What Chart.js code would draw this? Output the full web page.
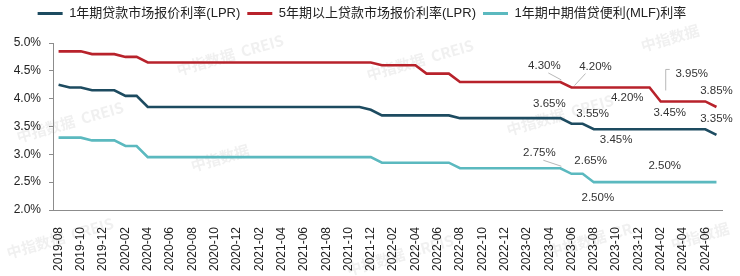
<!DOCTYPE html>
<html>
<head>
<meta charset="utf-8">
<script src="https://cdn.jsdelivr.net/npm/chart.js@4/dist/chart.umd.min.js"></script>
<style>
  html, body { margin: 0; padding: 0; background: #fff; }
  #wrap { width: 740px; height: 276px; }
</style>
</head>
<body>
<div id="wrap"><canvas id="rateChart" width="740" height="276"></canvas></div>
<script>
var months = [
  "2019-08","2019-09","2019-10","2019-11","2019-12",
  "2020-01","2020-02","2020-03","2020-04","2020-05","2020-06","2020-07","2020-08","2020-09","2020-10","2020-11","2020-12",
  "2021-01","2021-02","2021-03","2021-04","2021-05","2021-06","2021-07","2021-08","2021-09","2021-10","2021-11","2021-12",
  "2022-01","2022-02","2022-03","2022-04","2022-05","2022-06","2022-07","2022-08","2022-09","2022-10","2022-11","2022-12",
  "2023-01","2023-02","2023-03","2023-04","2023-05","2023-06","2023-07","2023-08","2023-09","2023-10","2023-11","2023-12",
  "2024-01","2024-02","2024-03","2024-04","2024-05","2024-06","2024-07"
];

var seriesNames = ["1年期贷款市场报价利率(LPR)", "5年期以上贷款市场报价利率(LPR)", "1年期中期借贷便利(MLF)利率"];

// 1年期LPR
var lpr1y = [
  4.25,4.20,4.20,4.15,4.15,
  4.15,4.05,4.05,3.85,3.85,3.85,3.85,3.85,3.85,3.85,3.85,3.85,
  3.85,3.85,3.85,3.85,3.85,3.85,3.85,3.85,3.85,3.85,3.85,3.80,
  3.70,3.70,3.70,3.70,3.70,3.70,3.70,3.65,3.65,3.65,3.65,3.65,
  3.65,3.65,3.65,3.65,3.65,3.55,3.55,3.45,3.45,3.45,3.45,3.45,
  3.45,3.45,3.45,3.45,3.45,3.45,3.35
];
// 5年期以上LPR
var lpr5y = [
  4.85,4.85,4.85,4.80,4.80,
  4.80,4.75,4.75,4.65,4.65,4.65,4.65,4.65,4.65,4.65,4.65,4.65,
  4.65,4.65,4.65,4.65,4.65,4.65,4.65,4.65,4.65,4.65,4.65,4.65,
  4.60,4.60,4.60,4.60,4.45,4.45,4.45,4.30,4.30,4.30,4.30,4.30,
  4.30,4.30,4.30,4.30,4.30,4.20,4.20,4.20,4.20,4.20,4.20,4.20,
  4.20,3.95,3.95,3.95,3.95,3.95,3.85
];
// MLF
var mlf1y = [
  3.30,3.30,3.30,3.25,3.25,
  3.25,3.15,3.15,2.95,2.95,2.95,2.95,2.95,2.95,2.95,2.95,2.95,
  2.95,2.95,2.95,2.95,2.95,2.95,2.95,2.95,2.95,2.95,2.95,2.95,
  2.85,2.85,2.85,2.85,2.85,2.85,2.85,2.75,2.75,2.75,2.75,2.75,
  2.75,2.75,2.75,2.75,2.75,2.65,2.65,2.50,2.50,2.50,2.50,2.50,
  2.50,2.50,2.50,2.50,2.50,2.50,2.50
];

var yTicks = [2.0, 2.5, 3.0, 3.5, 4.0, 4.5, 5.0];

var lineColors = ["#1d4b60", "#b8222b", "#5bb9bf"];
var FONT = "'Liberation Sans', Arial, 'Noto Sans CJK SC', sans-serif";

// where each value label sits: [series, point, dx, dy, leader]
var labelSpots = [
  [1, 45, -16, -16, "diag"],
  [1, 46, 24, -21, "diag"],
  [1, 51, 0, 10, null],
  [1, 54, 31, -28, "bracket"],
  [1, 59, 0, -16, null],
  [0, 45, -11, -14, null],
  [0, 47, 10, -10, null],
  [0, 50, 0, 11, null],
  [0, 54, 9, -16, null],
  [0, 59, 0, -16, null],
  [2, 45, -21, -15, "diag"],
  [2, 47, 8, -13, null],
  [2, 48, 4, 16, null],
  [2, 54, 4, -16, null]
];

var marks = [
  [230, 55, "中指数据  CREIS"], [70, 122, "中指数据  CREIS"], [220, 158, "中指数据"],
  [560, 115, "中指数据  CREIS"], [670, 38, "中指数据"], [60, 238, "中指数据  CREIS"],
  [400, 255, "中指数据  CREIS"], [590, 240, "中指数据  CR"], [700, 236, "中指数据"], [420, 60, "中指数据  CREIS"]
];

var watermark = {
  id: "watermark",
  beforeDraw: function (chart) {
    var ctx = chart.ctx;
    ctx.save();
    ctx.font = "bold 15px 'Noto Sans CJK SC', " + FONT;
    ctx.fillStyle = "rgba(150,150,150,0.14)";
    ctx.textAlign = "center";
    ctx.textBaseline = "middle";
    marks.forEach(function (m) {
      ctx.save();
      ctx.translate(m[0], m[1]);
      ctx.rotate(-0.28);
      ctx.fillText(m[2], 0, 0);
      ctx.restore();
    });
    ctx.restore();
  }
};

var legendGap = {
  id: "legendGap",
  afterInit: function (chart) {
    var lg = chart.legend;
    if (!lg) return;
    var fit = lg.fit;
    lg.fit = function () {
      fit.call(this);
      this.height += 13;
    };
  }
};

var valueLabels = {
  id: "valueLabels",
  afterDatasetsDraw: function (chart) {
    var ctx = chart.ctx;
    ctx.save();
    ctx.font = "11.5px " + FONT;
    ctx.fillStyle = "#333";
    ctx.textAlign = "center";
    ctx.textBaseline = "middle";
    ctx.strokeStyle = "#a6a6a6";
    ctx.lineWidth = 0.8;
    labelSpots.forEach(function (s) {
      var pt = chart.getDatasetMeta(s[0]).data[s[1]];
      var val = chart.data.datasets[s[0]].data[s[1]];
      var lx = pt.x + s[2], ly = pt.y + s[3];
      if (s[4] === "diag") {
        ctx.beginPath();
        var sx = s[2] < 0 ? lx + 4 : lx - 10;
        ctx.moveTo(sx, ly + 7);
        ctx.lineTo(pt.x + (s[2] < 0 ? 1 : 3), pt.y - 2);
        ctx.stroke();
      } else if (s[4] === "bracket") {
        ctx.beginPath();
        ctx.moveTo(lx - 22, ly - 4);
        ctx.lineTo(lx - 26, ly - 4);
        ctx.lineTo(lx - 26, pt.y - 11);
        ctx.stroke();
      }
      ctx.fillText(val.toFixed(2) + "%", lx, ly);
    });
    ctx.restore();
  }
};

var seriesData = [lpr1y, lpr5y, mlf1y];

new Chart("rateChart", {
  type: "line",
  data: {
    labels: months,
    datasets: seriesData.map(function (d, i) {
      return {
        label: seriesNames[i],
        data: d,
        borderColor: lineColors[i],
        backgroundColor: lineColors[i],
        borderWidth: 2.6,
        pointRadius: 0,
        tension: 0,
        fill: false
      };
    })
  },
  options: {
    responsive: false,
    animation: false,
    layout: { padding: { left: 0, right: 16, top: 0, bottom: 0 } },
    plugins: {
      tooltip: { enabled: false },
      legend: {
        display: true,
        position: "top",
        labels: {
          boxWidth: 25,
          boxHeight: 3,
          padding: 7,
          color: "#222",
          font: { size: 13, family: FONT },
          generateLabels: function (chart) {
            return chart.data.datasets.map(function (ds, i) {
              return {
                text: ds.label,
                fillStyle: ds.borderColor,
                strokeStyle: ds.borderColor,
                lineWidth: 0,
                hidden: false,
                datasetIndex: i,
                fontColor: "#222"
              };
            });
          }
        }
      }
    },
    scales: {
      x: {
        offset: true,
        grid: { display: false },
        border: { display: true, color: "#8c8c8c", width: 1 },
        afterFit: function (scale) { scale.height = 66; },
        ticks: {
          autoSkip: false,
          minRotation: 90,
          maxRotation: 90,
          padding: 9,
          color: "#222",
          font: { size: 12, family: FONT },
          callback: function (v, i) { return i % 2 === 0 ? months[i] : ""; }
        }
      },
      y: {
        min: yTicks[0],
        max: yTicks[yTicks.length - 1],
        afterBuildTicks: function (scale) {
          scale.ticks = yTicks.map(function (v) { return { value: v }; });
        },
        afterFit: function (scale) { scale.width = 53; },
        grid: { display: true, drawOnChartArea: false, drawTicks: true, tickLength: 4, color: "#8c8c8c" },
        border: { display: true, color: "#8c8c8c", width: 1 },
        ticks: {
          padding: 8,
          color: "#222",
          font: { size: 12, family: FONT },
          callback: function (v) { return v.toFixed(1) + "%"; }
        }
      }
    }
  },
  plugins: [watermark, legendGap, valueLabels]
});
</script>
</body>
</html>
